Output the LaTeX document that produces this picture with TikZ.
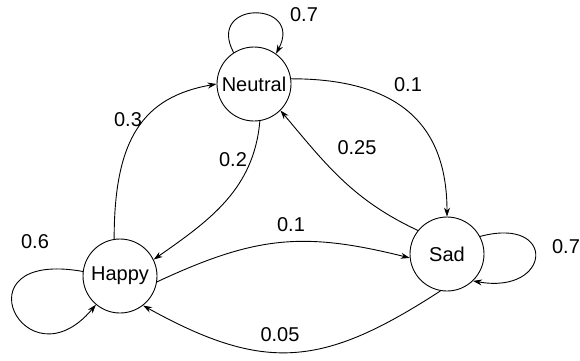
\documentclass[tikz,border=0pt]{standalone}
\usepackage{fontspec}
\setmainfont{Liberation Sans}
\usetikzlibrary{arrows.meta}
\begin{document}
\begin{tikzpicture}[x=1pt,y=1pt,
  state/.style={circle,draw,line width=0.9pt,minimum size=74pt,inner sep=0pt,font=\fontsize{20}{24}\selectfont},
  lbl/.style={font=\fontsize{20}{24}\selectfont,inner sep=0pt},
  edge/.style={draw,line width=0.9pt,-{Stealth[length=9pt,width=6pt]}}]
\useasboundingbox (0,0) rectangle (580,360);
\node[state] (N) at (254,276) {Neutral};
\node[state] (H) at (120,84) {Happy};
\node[state] (S) at (447,106) {Sad};
% labels
\node[lbl] (l1) at (304,345) {0.7};
\node[lbl] (l2) at (408,275) {0.1};
\node[lbl] (l3) at (357,212) {0.25};
\node[lbl] (l4) at (128,240) {0.3};
\node[lbl] (l5) at (233,200) {0.2};
\node[lbl] (l6) at (291,135) {0.1};
\node[lbl] (l7) at (280,25) {0.05};
\node[lbl] (l8) at (35,118) {0.6};
\node[lbl] (l9) at (566,113) {0.7};
% edges
\draw[edge] (N.123) .. controls +(118:60) and +(62:60) .. (N.54);
\draw[edge] (N.8) .. controls +(0:110) and +(90:90) .. (S.90);
\draw[edge] (S.141) to[out=155,in=-50] (N.-45);
\draw[edge] (H.99) .. controls +(90:100) and +(190:75) .. (N.180);
\draw[edge] (N.-81) to[out=-95,in=35] (H.26);
\draw[edge] (H.-9) to[out=25,in=166,looseness=1.1] (S.186);
\draw[edge] (S.-100) to[out=213,in=-29,looseness=1.2] (H.-52);
\draw[edge] (H.173) .. controls +(170:130) and +(230:110) .. (H.230);
\draw[edge] (S.28) .. controls +(15:80) and +(-10:80) .. (S.-46);
\end{tikzpicture}
\end{document}
